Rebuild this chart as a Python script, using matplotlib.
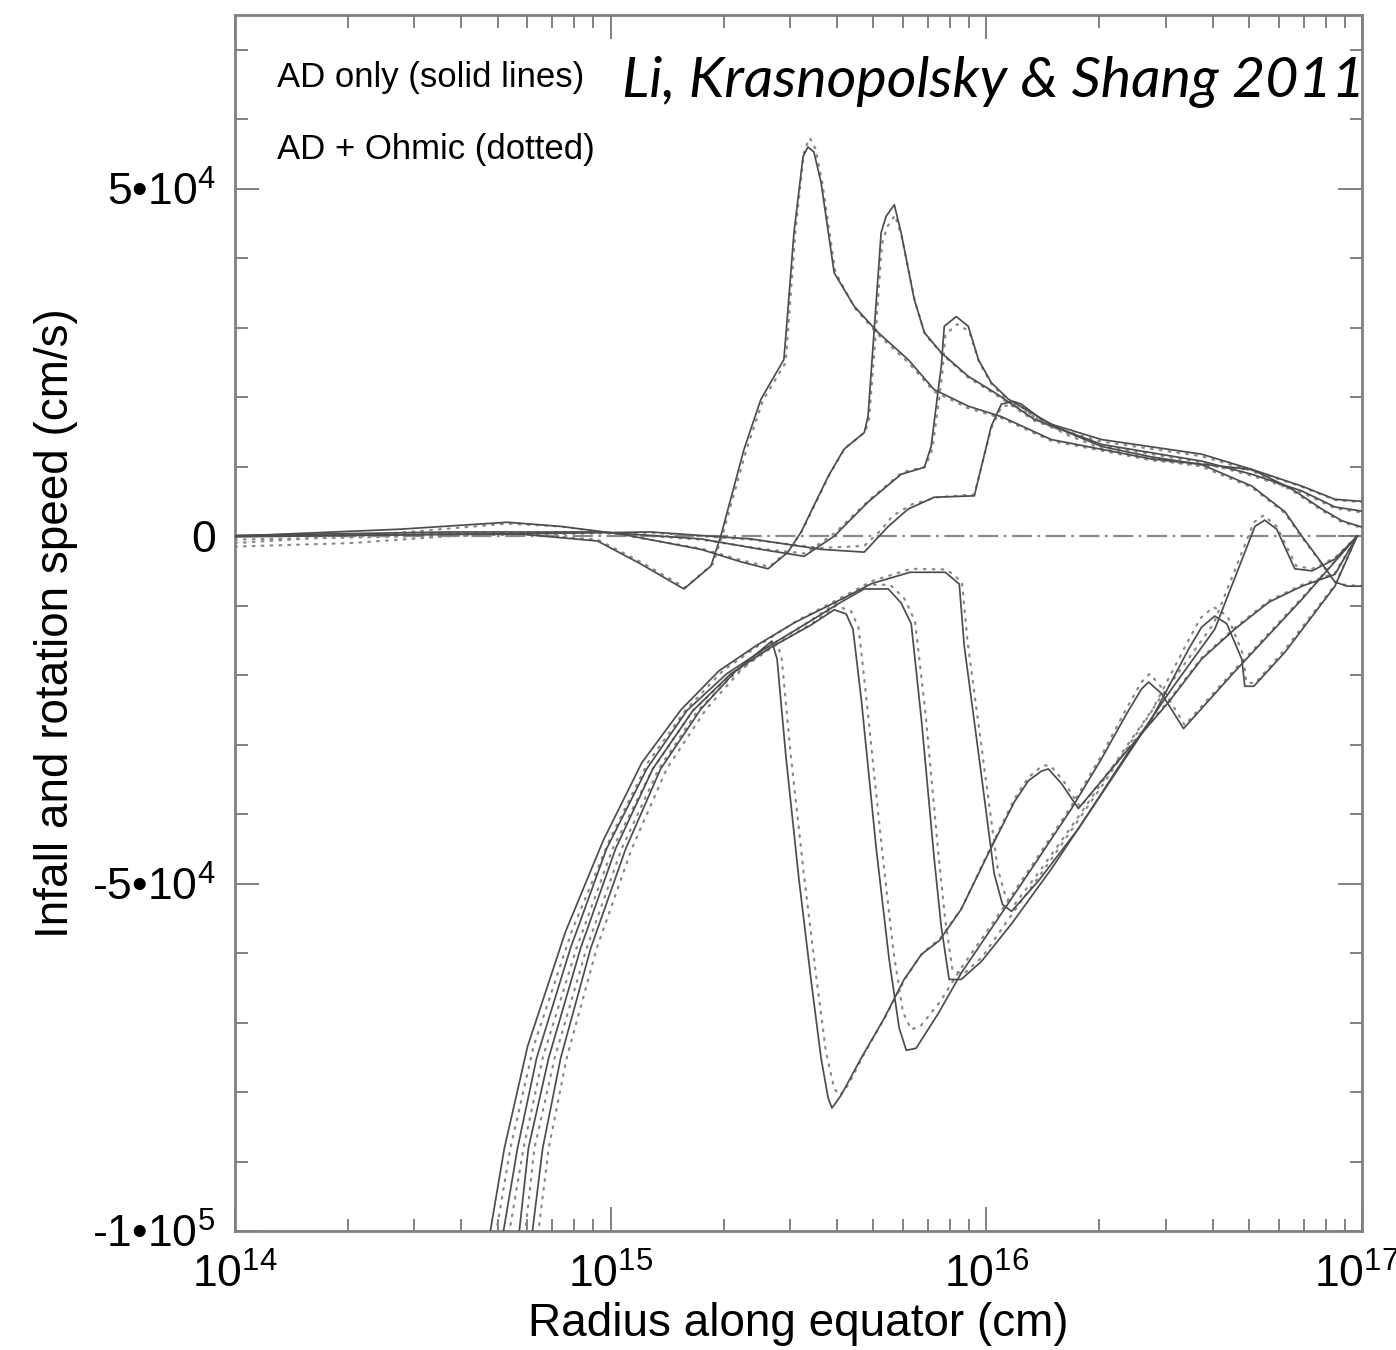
import matplotlib
matplotlib.use("Agg")
import matplotlib.pyplot as plt
import matplotlib.transforms as mtransforms
import numpy as np
from matplotlib.ticker import FixedLocator, LogLocator, NullFormatter, MultipleLocator

plt.rcParams["font.family"] = ["Liberation Sans", "DejaVu Sans"]
plt.rcParams["mathtext.fontset"] = "custom"
plt.rcParams["mathtext.rm"] = "Liberation Sans"

# radius given as log10(r / cm), speed in units of 1e4 cm/s
# rotation speed, AD only (solid)
rot1_logr = [14.000, 14.307, 14.573, 14.760, 14.965, 15.080, 15.195, 15.267, 15.293, 15.355, 15.400,
             15.461, 15.467, 15.488, 15.512, 15.525, 15.541, 15.560, 15.595, 15.648, 15.712, 15.792,
             15.861, 15.952, 16.040, 16.173, 16.440, 16.707, 16.840, 16.928, 17.000]
rot1_v = [-0.01, 0.01, 0.03, 0.03, -0.07, -0.40, -0.76, -0.43, 0.0, 1.25, 1.97, 2.54, 2.93, 4.37, 5.46,
          5.60, 5.53, 5.09, 3.79, 3.31, 2.93, 2.54, 2.11, 1.87, 1.72, 1.39, 1.11, 0.96, 0.72, 0.53, 0.50]
rot2_logr = [14.000, 14.440, 14.725, 14.867, 15.027, 15.240, 15.347, 15.419, 15.472, 15.507, 15.579,
             15.621, 15.675, 15.685, 15.701, 15.720, 15.733, 15.755, 15.773, 15.808, 15.835, 15.880,
             15.952, 16.021, 16.128, 16.307, 16.573, 16.707, 16.840, 16.928, 17.000]
rot2_v = [0.0, 0.10, 0.20, 0.14, 0.03, -0.19, -0.37, -0.47, -0.23, 0.06, 0.86, 1.25, 1.49, 1.72, 2.93,
          4.37, 4.60, 4.77, 4.37, 3.41, 2.93, 2.64, 2.30, 2.07, 1.68, 1.32, 1.08, 0.89, 0.65, 0.42, 0.36]
rot3_logr = [14.000, 14.573, 14.973, 15.240, 15.400, 15.515, 15.595, 15.685, 15.773, 15.835, 15.853,
             15.872, 15.880, 15.888, 15.920, 15.952, 15.979, 16.013, 16.059, 16.173, 16.307, 16.573,
             16.707, 16.813, 16.893, 16.947, 17.000]
rot3_v = [0.01, 0.06, 0.06, -0.04, -0.19, -0.29, 0.0, 0.49, 0.89, 0.99, 1.29, 2.11, 2.44, 3.02, 3.16,
          3.02, 2.54, 2.21, 1.97, 1.61, 1.39, 1.18, 0.96, 0.68, 0.39, 0.22, 0.13]
rot4_logr = [14.000, 14.707, 15.107, 15.373, 15.560, 15.675, 15.739, 15.792, 15.861, 15.968, 16.013,
             16.040, 16.072, 16.093, 16.147, 16.219, 16.307, 16.440, 16.573, 16.707, 16.795, 16.840,
             16.885, 16.928, 16.960, 17.000]
rot4_v = [0.0, 0.03, 0.06, -0.04, -0.19, -0.23, 0.14, 0.39, 0.56, 0.58, 1.58, 1.90, 1.94, 1.90, 1.68,
          1.49, 1.29, 1.14, 1.03, 0.72, 0.35, 0.0, -0.33, -0.66, -0.72, -0.72]

# rotation speed, AD + Ohmic (dotted)
rot1_dot_logr = [14.000, 14.307, 14.573, 14.760, 14.965, 15.083, 15.198, 15.272, 15.298, 15.360, 15.405,
                 15.466, 15.472, 15.492, 15.515, 15.530, 15.545, 15.563, 15.598, 15.650, 15.712, 15.792,
                 15.861, 15.952, 16.040, 16.173, 16.440, 16.707, 16.840, 16.928, 17.000]
rot1_dot_v = [-0.15, -0.10, 0.0, 0.03, -0.05, -0.38, -0.74, -0.40, 0.02, 1.22, 1.95, 2.50, 2.95, 4.40,
              5.55, 5.73, 5.58, 5.10, 3.80, 3.28, 2.90, 2.50, 2.08, 1.84, 1.70, 1.37, 1.09, 0.95, 0.71,
              0.52, 0.49]
rot2_dot_logr = [14.000, 14.440, 14.725, 14.867, 15.027, 15.243, 15.350, 15.422, 15.475, 15.510, 15.582,
                 15.624, 15.678, 15.688, 15.704, 15.722, 15.736, 15.757, 15.775, 15.810, 15.837, 15.882,
                 15.952, 16.021, 16.128, 16.307, 16.573, 16.707, 16.840, 16.928, 17.000]
rot2_dot_v = [-0.10, 0.05, 0.18, 0.14, 0.02, -0.18, -0.35, -0.44, -0.20, 0.08, 0.88, 1.27, 1.50, 1.70,
              2.80, 4.20, 4.45, 4.62, 4.30, 3.38, 2.90, 2.62, 2.28, 2.05, 1.66, 1.30, 1.06, 0.87, 0.63,
              0.40, 0.34]
rot3_dot_logr = [14.000, 14.573, 14.973, 15.240, 15.400, 15.518, 15.598, 15.688, 15.776, 15.838, 15.856,
                 15.875, 15.883, 15.891, 15.922, 15.954, 15.981, 16.015, 16.061, 16.173, 16.307, 16.573,
                 16.707, 16.813, 16.893, 16.947, 17.000]
rot3_dot_v = [0.0, 0.04, 0.05, -0.05, -0.18, -0.25, 0.05, 0.52, 0.92, 1.00, 1.25, 2.00, 2.35, 2.90, 3.05,
              2.95, 2.50, 2.18, 1.93, 1.57, 1.36, 1.15, 0.94, 0.66, 0.37, 0.20, 0.12]
rot4_dot_logr = [14.000, 14.707, 15.107, 15.373, 15.560, 15.675, 15.722, 15.750, 15.803, 15.871, 15.968,
                 16.013, 16.040, 16.072, 16.093, 16.147, 16.219, 16.307, 16.440, 16.573, 16.707, 16.795,
                 16.840, 16.885, 16.928, 16.960, 17.000]
rot4_dot_v = [-0.05, 0.02, 0.05, -0.05, -0.17, -0.14, 0.10, 0.29, 0.46, 0.56, 0.60, 1.55, 1.86, 1.90,
              1.86, 1.64, 1.45, 1.26, 1.11, 1.00, 0.70, 0.33, -0.02, -0.34, -0.66, -0.71, -0.71]

# infall speed, AD only (solid)
inf1_logr = [14.781, 14.792, 14.819, 14.867, 14.947, 15.040, 15.133, 15.240, 15.333, 15.429, 15.443,
             15.467, 15.501, 15.533, 15.560, 15.579, 15.589, 15.613, 15.667, 15.728, 15.781, 15.827,
             15.875, 15.933, 16.005, 16.075, 16.112, 16.147, 16.165, 16.200, 16.245, 16.360, 16.485,
             16.573, 16.661, 16.752, 16.840, 16.928, 16.987]
inf1_v = [-10.42, -9.99, -8.81, -7.51, -5.93, -4.50, -3.35, -2.49, -1.94, -1.51, -1.77, -3.20, -4.93,
          -6.37, -7.51, -8.09, -8.23, -8.05, -7.51, -6.94, -6.38, -6.02, -5.82, -5.37, -4.57, -3.82,
          -3.52, -3.38, -3.35, -3.56, -3.92, -3.18, -2.39, -1.77, -1.34, -0.95, -0.72, -0.55, 0.0]
inf2_logr = [14.747, 14.757, 14.781, 14.835, 14.920, 15.013, 15.112, 15.219, 15.320, 15.427, 15.533,
             15.595, 15.627, 15.645, 15.667, 15.707, 15.741, 15.768, 15.787, 15.813, 15.872, 15.933,
             16.013, 16.120, 16.227, 16.307, 16.373, 16.413, 16.432, 16.467, 16.525, 16.661, 16.840,
             16.987]
inf2_v = [-10.42, -9.99, -8.81, -7.51, -5.93, -4.50, -3.35, -2.51, -1.98, -1.60, -1.28, -1.06, -1.12,
          -1.34, -2.34, -4.50, -6.08, -7.08, -7.40, -7.37, -6.87, -6.29, -5.65, -4.79, -3.92, -3.20,
          -2.56, -2.20, -2.10, -2.27, -2.77, -1.95, -0.91, 0.0]
inf3_logr = [14.707, 14.715, 14.752, 14.803, 14.893, 14.989, 15.096, 15.203, 15.309, 15.416, 15.523,
             15.613, 15.675, 15.739, 15.773, 15.800, 15.827, 15.861, 15.880, 15.901, 15.933, 15.987,
             16.067, 16.173, 16.307, 16.440, 16.539, 16.573, 16.608, 16.640, 16.680, 16.688, 16.712,
             16.795, 16.928, 16.987]
inf3_v = [-10.42, -9.99, -8.81, -7.51, -5.93, -4.50, -3.35, -2.51, -1.98, -1.60, -1.25, -0.95, -0.76,
          -0.76, -0.96, -1.26, -2.63, -4.63, -5.62, -6.38, -6.38, -6.12, -5.58, -4.79, -3.71, -2.63,
          -1.62, -1.31, -1.15, -1.26, -1.77, -2.16, -2.16, -1.67, -0.72, 0.0]
inf4_logr = [14.669, 14.680, 14.717, 14.779, 14.880, 14.981, 15.083, 15.187, 15.288, 15.389, 15.491,
             15.595, 15.696, 15.797, 15.891, 15.928, 15.941, 15.981, 16.021, 16.043, 16.067, 16.139,
             16.245, 16.379, 16.493, 16.608, 16.715, 16.741, 16.773, 16.821, 16.867, 16.928, 16.987]
inf4_v = [-10.42, -9.99, -8.81, -7.34, -5.69, -4.37, -3.26, -2.50, -1.94, -1.57, -1.24, -0.96, -0.68,
          -0.52, -0.52, -0.69, -1.57, -3.20, -4.86, -5.30, -5.40, -4.96, -4.21, -3.10, -2.20, -1.34,
          0.14, 0.23, 0.10, -0.47, -0.50, -0.33, 0.0]

# infall speed, AD + Ohmic (dotted)
inf1_dot_logr = [14.797, 14.808, 14.835, 14.883, 14.963, 15.056, 15.149, 15.254, 15.345, 15.440, 15.455,
                 15.480, 15.515, 15.547, 15.573, 15.595, 15.610, 15.632, 15.675, 15.733, 15.785, 15.830,
                 15.877, 15.935, 16.005, 16.075, 16.112, 16.150, 16.170, 16.205, 16.250, 16.360, 16.485,
                 16.573, 16.661, 16.752, 16.840, 16.928, 16.987]
inf1_dot_v = [-10.42, -9.99, -8.81, -7.51, -5.93, -4.50, -3.35, -2.49, -1.94, -1.48, -1.75, -3.18, -4.90,
              -6.33, -7.42, -7.95, -8.05, -7.90, -7.45, -6.90, -6.36, -6.00, -5.79, -5.35, -4.55, -3.78,
              -3.47, -3.30, -3.30, -3.52, -3.90, -3.16, -2.37, -1.75, -1.32, -0.93, -0.70, -0.53, 0.0]
inf2_dot_logr = [14.763, 14.773, 14.797, 14.851, 14.936, 15.029, 15.128, 15.232, 15.330, 15.435, 15.540,
                 15.600, 15.640, 15.660, 15.680, 15.720, 15.752, 15.778, 15.800, 15.825, 15.877, 15.935,
                 16.013, 16.120, 16.227, 16.307, 16.373, 16.413, 16.435, 16.470, 16.528, 16.661, 16.840,
                 16.987]
inf2_dot_v = [-10.42, -9.99, -8.81, -7.51, -5.93, -4.50, -3.35, -2.51, -1.98, -1.58, -1.24, -1.00, -1.08,
              -1.32, -2.30, -4.40, -5.95, -6.85, -7.10, -7.05, -6.70, -6.20, -5.60, -4.75, -3.88, -3.15,
              -2.48, -2.10, -1.98, -2.20, -2.72, -1.92, -0.89, 0.0]
inf3_dot_logr = [14.723, 14.731, 14.768, 14.819, 14.909, 15.005, 15.112, 15.219, 15.323, 15.427, 15.530,
                 15.618, 15.680, 15.744, 15.782, 15.810, 15.838, 15.872, 15.890, 15.910, 15.940, 15.990,
                 16.067, 16.173, 16.307, 16.440, 16.536, 16.570, 16.605, 16.642, 16.683, 16.692, 16.715,
                 16.795, 16.928, 16.987]
inf3_dot_v = [-10.42, -9.99, -8.81, -7.51, -5.93, -4.50, -3.35, -2.51, -1.98, -1.58, -1.22, -0.90, -0.70,
              -0.70, -0.90, -1.22, -2.55, -4.55, -5.50, -6.25, -6.30, -6.05, -5.45, -4.65, -3.60, -2.52,
              -1.52, -1.18, -1.02, -1.15, -1.70, -2.10, -2.12, -1.63, -0.70, 0.0]
inf4_dot_logr = [14.685, 14.696, 14.733, 14.795, 14.896, 14.997, 15.099, 15.200, 15.298, 15.395, 15.495,
                 15.598, 15.698, 15.800, 15.895, 15.935, 15.950, 15.990, 16.030, 16.052, 16.075, 16.145,
                 16.250, 16.379, 16.493, 16.605, 16.712, 16.738, 16.773, 16.825, 16.867, 16.928, 16.987]
inf4_dot_v = [-10.42, -9.99, -8.81, -7.34, -5.69, -4.37, -3.26, -2.50, -1.94, -1.57, -1.22, -0.93, -0.64,
              -0.47, -0.48, -0.66, -1.52, -3.15, -4.78, -5.20, -5.30, -4.80, -4.00, -2.98, -2.10, -1.26,
              0.20, 0.30, 0.14, -0.43, -0.47, -0.31, 0.0]

solid_curves = [(rot1_logr, rot1_v), (rot2_logr, rot2_v), (rot3_logr, rot3_v), (rot4_logr, rot4_v),
                (inf1_logr, inf1_v), (inf2_logr, inf2_v), (inf3_logr, inf3_v), (inf4_logr, inf4_v)]
dotted_curves = [(rot1_dot_logr, rot1_dot_v), (rot2_dot_logr, rot2_dot_v),
                 (rot3_dot_logr, rot3_dot_v), (rot4_dot_logr, rot4_dot_v),
                 (inf1_dot_logr, inf1_dot_v), (inf2_dot_logr, inf2_dot_v),
                 (inf3_dot_logr, inf3_dot_v), (inf4_dot_logr, inf4_dot_v)]

x_ticks = [1e14, 1e15, 1e16, 1e17]
x_ticklabels = [r"$\mathregular{10^{14}}$", r"$\mathregular{10^{15}}$",
                r"$\mathregular{10^{16}}$", r"$\mathregular{10^{17}}$"]
y_ticks = [-1e5, -5e4, 0, 5e4]
y_ticklabels = [r"-1•10$^{\mathregular{5}}$", r"-5•10$^{\mathregular{4}}$", "0",
                r"5•10$^{\mathregular{4}}$"]

fig = plt.figure(figsize=(13.96, 13.5), dpi=100)
ax = fig.add_axes([235 / 1396, 1 - 1231 / 1350, 1127 / 1396, 1216 / 1350])

ax.axhline(0, color="#8a8a8a", lw=1.6, ls=(0, (9, 2.5, 1.2, 2.5)), zorder=1)

for logr, v in dotted_curves:
    ax.plot(10 ** np.array(logr), np.array(v) * 1e4, color="#8a8a8a", lw=1.6,
            ls=(0, (0.8, 3.2)), dash_capstyle="round", zorder=2)
for logr, v in solid_curves:
    ax.plot(10 ** np.array(logr), np.array(v) * 1e4, color="#4d4d4d", lw=1.25, zorder=3)

ax.set_xscale("log")
ax.set_xlim(1e14, 1e17)
ax.set_ylim(-1e5, 7.5e4)

ax.xaxis.set_major_locator(FixedLocator(x_ticks))
ax.set_xticklabels(x_ticklabels)
ax.xaxis.set_minor_locator(LogLocator(base=10, subs=np.arange(2, 10)))
ax.xaxis.set_minor_formatter(NullFormatter())
ax.yaxis.set_major_locator(FixedLocator(y_ticks))
ax.set_yticklabels(y_ticklabels)
ax.yaxis.set_minor_locator(MultipleLocator(1e4))

ax.tick_params(which="both", direction="in", top=True, right=True, color="#777777",
               labelsize=32, width=1.3)
ax.tick_params(which="major", length=17, pad=14)
ax.tick_params(which="minor", length=9)
ax.tick_params(axis="x", which="major", pad=16)
for s in ax.spines.values():
    s.set_color("#808080")
    s.set_linewidth(2)

# keep the last x label inside the figure edge
last = ax.get_xticklabels()[-1]
last.set_transform(last.get_transform() + mtransforms.ScaledTranslation(-6 / 100, 0, fig.dpi_scale_trans))

ax.set_xlabel("Radius along equator (cm)", fontsize=33, labelpad=4)
ax.set_ylabel("Infall and rotation speed (cm/s)", fontsize=33, labelpad=10)

fig.text(277 / 1396, 1 - 77 / 1350, "AD only (solid lines)", fontsize=25, va="center", ha="left")
fig.text(277 / 1396, 1 - 150 / 1350, "AD + Ohmic (dotted)", fontsize=25, va="center", ha="left")
fig.text(622 / 1396, 1 - 96 / 1350, "Li, Krasnopolsky & Shang 2011", fontsize=41.3,
         family=["Lato", "DejaVu Sans"], style="italic", va="baseline", ha="left")

fig.savefig("out.png", dpi=100)
